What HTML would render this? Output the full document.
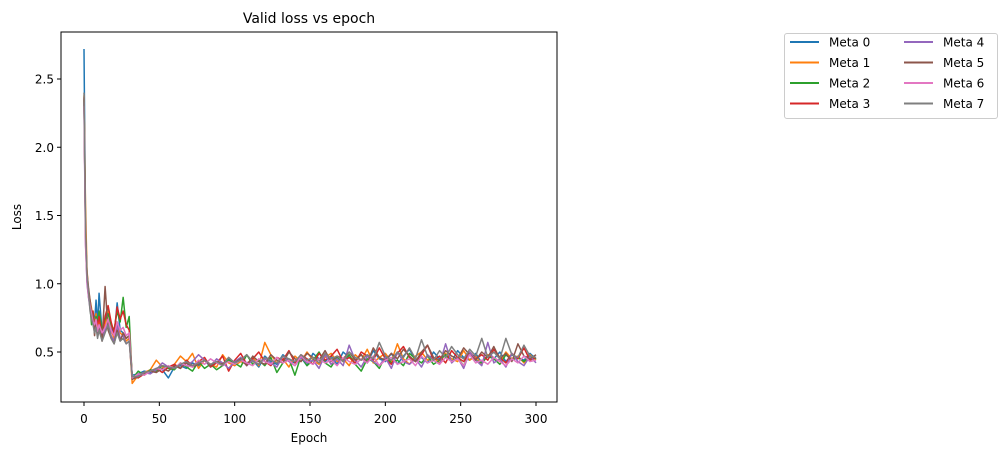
<!DOCTYPE html>
<html><head><meta charset="utf-8"><style>
body{margin:0;background:#fff;}
svg{display:block;font-family:"DejaVu Sans","Liberation Sans",sans-serif;}
</style></head><body>
<svg id="chart" width="1006" height="455" viewBox="0 0 1006 455">
<rect width="1006" height="455" fill="#fff"/>
<text x="309" y="23" text-anchor="middle" font-size="14">Valid loss vs epoch</text>
<g id="plot"></g>
<rect x="61" y="32" width="496" height="370" fill="none" stroke="#000" stroke-width="1"/>
<g id="ticks"></g>
<text x="309" y="442" text-anchor="middle" font-size="12">Epoch</text>
<text transform="translate(21,217) rotate(-90)" text-anchor="middle" font-size="12">Loss</text>
<g id="legend"></g>
</svg>
<script>
const epochs=[0,1,2,3,4,5,6,7,8,9,10,12,14,16,18,20,22,24,26,28,30,32,36,40,44,48,52,56,60,64,68,72,76,80,84,88,92,96,100,104,108,112,116,120,124,128,132,136,140,144,148,152,156,160,164,168,172,176,180,184,188,192,196,200,204,208,212,216,220,224,228,232,236,240,244,248,252,256,260,264,268,272,276,280,284,288,292,296,300];
const seriesNames=["Meta 0","Meta 1","Meta 2","Meta 3","Meta 4","Meta 5","Meta 6","Meta 7"];
const colors=["#1f77b4","#ff7f0e","#2ca02c","#d62728","#9467bd","#8c564b","#e377c2","#7f7f7f"];
const meta0=[2.72,1.45,1.05,0.95,0.85,0.80,0.78,0.72,0.88,0.70,0.93,0.65,0.72,0.82,0.68,0.62,0.86,0.66,0.64,0.60,0.62,0.33,0.34,0.36,0.35,0.38,0.37,0.31,0.39,0.40,0.38,0.42,0.40,0.44,0.39,0.43,0.41,0.45,0.40,0.46,0.42,0.44,0.39,0.47,0.43,0.41,0.48,0.44,0.42,0.46,0.40,0.49,0.45,0.43,0.47,0.41,0.50,0.46,0.44,0.48,0.42,0.51,0.45,0.43,0.49,0.41,0.47,0.52,0.44,0.46,0.42,0.50,0.45,0.48,0.43,0.51,0.46,0.44,0.49,0.42,0.47,0.45,0.50,0.43,0.48,0.46,0.44,0.49,0.45];
const meta1=[2.38,1.57,1.10,0.95,0.88,0.82,0.75,0.70,0.78,0.66,0.72,0.63,0.70,0.80,0.66,0.60,0.72,0.64,0.62,0.58,0.60,0.27,0.33,0.35,0.37,0.44,0.39,0.38,0.41,0.47,0.43,0.49,0.38,0.44,0.41,0.39,0.48,0.42,0.40,0.43,0.41,0.46,0.40,0.57,0.48,0.42,0.45,0.39,0.47,0.43,0.50,0.44,0.41,0.46,0.49,0.43,0.45,0.40,0.48,0.44,0.52,0.42,0.46,0.49,0.43,0.56,0.45,0.41,0.47,0.50,0.44,0.46,0.42,0.49,0.45,0.43,0.51,0.44,0.47,0.41,0.48,0.46,0.43,0.50,0.45,0.47,0.42,0.48,0.44];
const meta2=[2.35,1.40,1.02,0.92,0.84,0.70,0.74,0.69,0.76,0.72,0.80,0.66,0.74,0.78,0.70,0.66,0.80,0.72,0.90,0.68,0.76,0.30,0.36,0.33,0.37,0.36,0.40,0.38,0.37,0.42,0.39,0.36,0.43,0.38,0.41,0.37,0.40,0.44,0.42,0.39,0.48,0.41,0.44,0.40,0.46,0.35,0.42,0.45,0.33,0.47,0.40,0.44,0.50,0.42,0.39,0.46,0.43,0.48,0.41,0.36,0.45,0.43,0.38,0.47,0.42,0.44,0.40,0.49,0.45,0.42,0.47,0.41,0.44,0.48,0.43,0.46,0.40,0.50,0.44,0.42,0.47,0.45,0.41,0.48,0.44,0.46,0.43,0.47,0.45];
const meta3=[2.36,1.38,1.04,0.93,0.86,0.79,0.80,0.68,0.74,0.70,0.76,0.62,0.76,0.84,0.72,0.64,0.83,0.74,0.80,0.70,0.66,0.32,0.31,0.34,0.36,0.38,0.35,0.39,0.41,0.38,0.44,0.40,0.43,0.46,0.39,0.42,0.47,0.36,0.44,0.49,0.41,0.45,0.50,0.43,0.40,0.46,0.44,0.51,0.42,0.48,0.45,0.41,0.49,0.44,0.47,0.52,0.43,0.46,0.42,0.50,0.47,0.44,0.53,0.45,0.41,0.49,0.54,0.46,0.43,0.48,0.55,0.44,0.47,0.42,0.51,0.46,0.43,0.50,0.45,0.48,0.44,0.52,0.46,0.42,0.49,0.45,0.53,0.44,0.46];
const meta4=[2.33,1.30,1.00,0.90,0.82,0.76,0.72,0.66,0.70,0.62,0.68,0.60,0.66,0.72,0.62,0.58,0.70,0.60,0.62,0.56,0.58,0.31,0.33,0.35,0.34,0.37,0.42,0.39,0.38,0.41,0.40,0.43,0.48,0.44,0.40,0.45,0.42,0.38,0.43,0.46,0.40,0.44,0.41,0.45,0.42,0.39,0.47,0.43,0.40,0.46,0.42,0.44,0.38,0.48,0.41,0.45,0.40,0.55,0.44,0.39,0.47,0.43,0.40,0.46,0.38,0.50,0.43,0.41,0.45,0.39,0.48,0.44,0.41,0.56,0.42,0.46,0.38,0.50,0.44,0.40,0.57,0.42,0.45,0.39,0.49,0.43,0.40,0.47,0.42];
const meta5=[2.37,1.35,1.08,0.97,0.88,0.80,0.76,0.62,0.72,0.64,0.70,0.58,0.98,0.66,0.60,0.56,0.66,0.58,0.64,0.60,0.62,0.30,0.32,0.34,0.36,0.35,0.38,0.36,0.40,0.38,0.42,0.39,0.41,0.44,0.40,0.43,0.41,0.46,0.42,0.45,0.40,0.47,0.43,0.41,0.48,0.44,0.42,0.50,0.45,0.43,0.49,0.46,0.44,0.51,0.43,0.47,0.45,0.50,0.44,0.48,0.42,0.53,0.46,0.44,0.49,0.45,0.52,0.47,0.43,0.50,0.55,0.46,0.44,0.51,0.47,0.45,0.53,0.48,0.44,0.50,0.46,0.54,0.45,0.49,0.43,0.56,0.47,0.45,0.48];
const meta6=[2.30,1.28,1.02,0.90,0.84,0.78,0.72,0.70,0.74,0.65,0.70,0.64,0.68,0.74,0.66,0.62,0.72,0.66,0.68,0.62,0.64,0.31,0.34,0.33,0.36,0.38,0.37,0.40,0.38,0.42,0.40,0.39,0.44,0.41,0.45,0.42,0.40,0.43,0.41,0.44,0.42,0.40,0.45,0.43,0.41,0.46,0.42,0.44,0.40,0.47,0.43,0.41,0.45,0.42,0.44,0.40,0.46,0.43,0.41,0.45,0.42,0.47,0.40,0.44,0.46,0.41,0.43,0.45,0.40,0.47,0.42,0.44,0.41,0.46,0.43,0.45,0.40,0.48,0.42,0.44,0.41,0.46,0.43,0.40,0.45,0.42,0.47,0.43,0.44];
const meta7=[2.40,1.42,1.06,0.94,0.80,0.74,0.70,0.64,0.68,0.60,0.66,0.58,0.64,0.70,0.60,0.56,0.64,0.58,0.60,0.56,0.58,0.32,0.32,0.35,0.36,0.38,0.40,0.39,0.38,0.41,0.43,0.40,0.42,0.44,0.41,0.43,0.40,0.46,0.42,0.44,0.48,0.43,0.41,0.46,0.44,0.42,0.47,0.45,0.43,0.48,0.44,0.46,0.42,0.49,0.45,0.47,0.43,0.50,0.46,0.44,0.48,0.45,0.57,0.47,0.44,0.50,0.46,0.53,0.45,0.59,0.47,0.44,0.51,0.46,0.54,0.48,0.45,0.52,0.47,0.60,0.46,0.50,0.45,0.60,0.48,0.46,0.55,0.47,0.46];
const allSeries=[meta0,meta1,meta2,meta3,meta4,meta5,meta6,meta7];
const xTicks=[0,50,100,150,200,250,300];
const yTicks=[0.5,1.0,1.5,2.0,2.5];
const yTickLabels=["0.5","1.0","1.5","2.0","2.5"];

const NS="http://www.w3.org/2000/svg";
function xs(v){return 84+(v-0)*(536-84)/300;}
function ys(v){return 352-(v-0.5)*136.5;}
const plot=document.getElementById('plot');
allSeries.forEach((s,k)=>{
  let d="";
  const n=Math.min(s.length,epochs.length);
  for(let i=0;i<n;i++){d+=(i?"L":"M")+xs(epochs[i]).toFixed(2)+","+ys(s[i]).toFixed(2);}
  const p=document.createElementNS(NS,'path');
  p.setAttribute('d',d);p.setAttribute('fill','none');p.setAttribute('stroke',colors[k]);p.setAttribute('stroke-width','1.5');
  p.setAttribute('stroke-linejoin','round');
  
  
  plot.appendChild(p);
});
const ticks=document.getElementById('ticks');
xTicks.forEach(t=>{
  const l=document.createElementNS(NS,'line');
  l.setAttribute('x1',xs(t));l.setAttribute('x2',xs(t));l.setAttribute('y1',402);l.setAttribute('y2',406);l.setAttribute('stroke','#000');
  
  
  ticks.appendChild(l);
  const tx=document.createElementNS(NS,'text');
  tx.setAttribute('x',xs(t));tx.setAttribute('y',423);tx.setAttribute('text-anchor','middle');tx.setAttribute('font-size','12');
  tx.textContent=t;
  
  
  ticks.appendChild(tx);
});
yTicks.forEach((t,i)=>{
  const l=document.createElementNS(NS,'line');
  l.setAttribute('x1',57);l.setAttribute('x2',61);l.setAttribute('y1',ys(t));l.setAttribute('y2',ys(t));l.setAttribute('stroke','#000');
  
  
  ticks.appendChild(l);
  const tx=document.createElementNS(NS,'text');
  tx.setAttribute('x',54);tx.setAttribute('y',ys(t)+4.5);tx.setAttribute('text-anchor','end');tx.setAttribute('font-size','12');
  tx.textContent=yTickLabels[i];
  
  
  ticks.appendChild(tx);
});
const lg=document.getElementById('legend');
const box=document.createElementNS(NS,'rect');
box.setAttribute('x',784.5);box.setAttribute('y',33.5);box.setAttribute('width',213);box.setAttribute('height',85);box.setAttribute('rx',2.5);
box.setAttribute('fill','#fff');box.setAttribute('stroke','#ccc');


lg.appendChild(box);
seriesNames.forEach((nm,k)=>{
  const col=Math.floor(k/4),row=k%4;
  const x0=790+col*114,y0=42+row*20.5;
  const l=document.createElementNS(NS,'line');
  l.setAttribute('x1',x0);l.setAttribute('x2',x0+29);l.setAttribute('y1',y0);l.setAttribute('y2',y0);
  l.setAttribute('stroke',colors[k]);l.setAttribute('stroke-width','2');
  
  
  lg.appendChild(l);
  const t=document.createElementNS(NS,'text');
  t.setAttribute('x',x0+39);t.setAttribute('y',y0+4.5);t.setAttribute('font-size','12');
  t.textContent=nm;
  
  
  lg.appendChild(t);
});
</script>
</body></html>
